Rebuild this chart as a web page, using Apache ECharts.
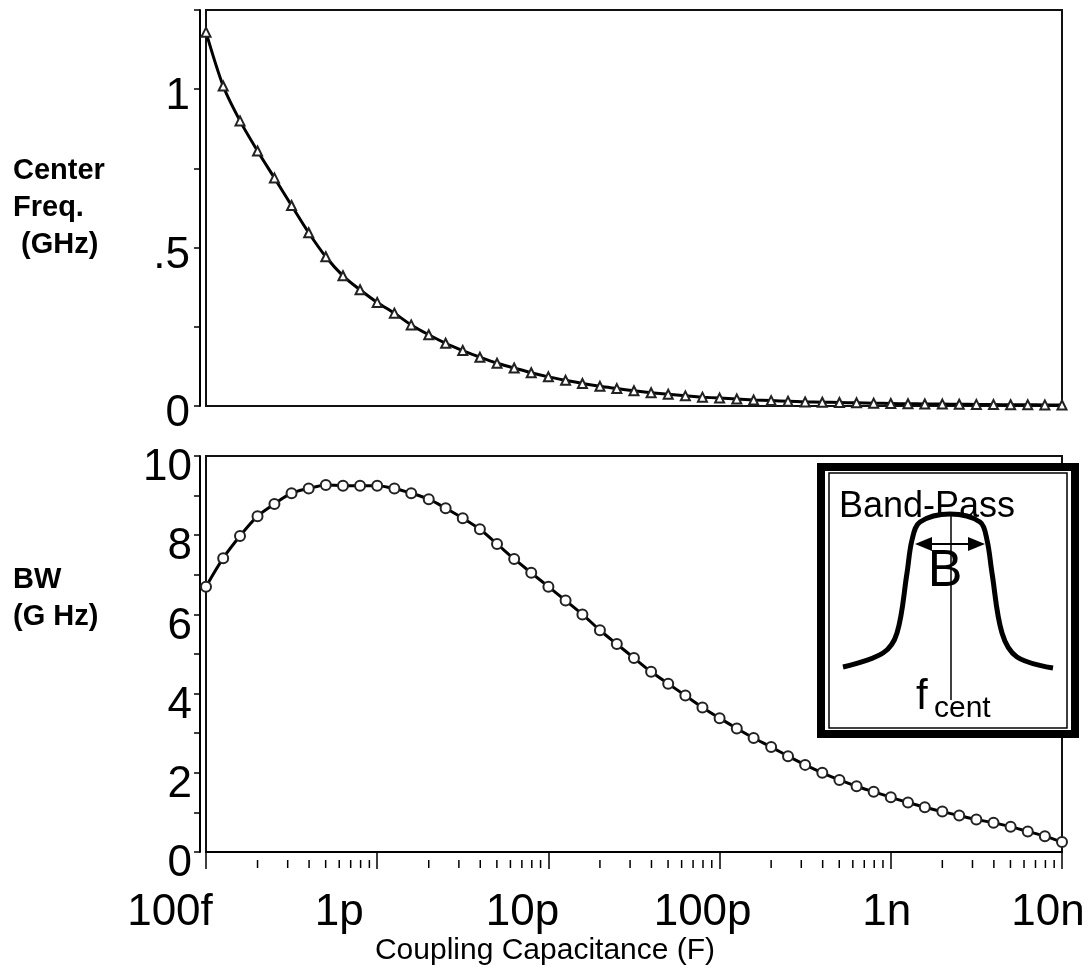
<!DOCTYPE html>
<html><head><meta charset="utf-8">
<script src="https://cdn.jsdelivr.net/npm/echarts@6/dist/echarts.min.js"></script>
<style>html,body{margin:0;padding:0;background:#fff}#c{width:1092px;height:977px}</style>
</head><body><div id="c"></div>
<script>
// Coupling capacitance sample points (F), 10 per decade
const capacitance = [
1.00e-13,1.26e-13,1.58e-13,2.00e-13,2.51e-13,3.16e-13,3.98e-13,5.01e-13,6.31e-13,7.94e-13,
1.00e-12,1.26e-12,1.58e-12,2.00e-12,2.51e-12,3.16e-12,3.98e-12,5.01e-12,6.31e-12,7.94e-12,
1.00e-11,1.26e-11,1.58e-11,2.00e-11,2.51e-11,3.16e-11,3.98e-11,5.01e-11,6.31e-11,7.94e-11,
1.00e-10,1.26e-10,1.58e-10,2.00e-10,2.51e-10,3.16e-10,3.98e-10,5.01e-10,6.31e-10,7.94e-10,
1.00e-9,1.26e-9,1.58e-9,2.00e-9,2.51e-9,3.16e-9,3.98e-9,5.01e-9,6.31e-9,7.94e-9,
1.00e-8];
// Center frequency (GHz)
const centerFreqGHz = [
1.18,1.01,0.90,0.805,0.72,0.633,0.547,0.471,0.411,0.367,
0.327,0.293,0.256,0.225,0.198,0.175,0.154,0.135,0.120,0.105,
0.092,0.081,0.071,0.062,0.055,0.048,0.042,0.037,0.032,0.028,
0.025,0.022,0.019,0.017,0.015,0.013,0.012,0.011,0.010,0.009,
0.008,0.007,0.0065,0.006,0.0055,0.005,0.0045,0.004,0.0037,0.0034,
0.003];
// Bandwidth (GHz)
const bandwidthGHz = [
6.70,7.42,7.98,8.48,8.79,9.06,9.18,9.27,9.25,9.25,
9.25,9.18,9.06,8.91,8.68,8.43,8.15,7.78,7.40,7.05,
6.70,6.35,6.00,5.60,5.25,4.90,4.55,4.25,3.95,3.65,
3.38,3.12,2.88,2.65,2.42,2.20,2.00,1.82,1.66,1.52,
1.38,1.25,1.13,1.02,0.92,0.82,0.74,0.64,0.52,0.40,
0.25];
const xTickLabels = ['100f','1p','10p','100p','1n','10n'];
const xLabelShift = [72,76,52,34,8,28];
const yTopLabels = {'0':'0','0.5':'.5','1':'1'};
const yBottomLabels = {'0':'0','2':'2','4':'4','6':'6','8':'8','10':'10'};

const FONT = '"Liberation Sans", Arial, sans-serif';
const minorTicks = [];
for (let d = -13; d < -8; d++) for (let k = 2; k <= 9; k++) minorTicks.push([k * Math.pow(10, d), 0]);

const rich = {};
xTickLabels.forEach((t, i) => {
  rich['l' + i] = {fontSize: 44, fontFamily: FONT, color: '#000', padding: [0, xLabelShift[i], 0, 0]};
});

const chart = echarts.init(document.getElementById('c'));
const axisLineStyle = {color: '#000', width: 2};
const option = {
  animation: false,
  backgroundColor: '#fff',
  grid: [
    {left: 206, top: 10, right: 30, height: 396, show: true, borderColor: '#111', borderWidth: 2, backgroundColor: 'transparent'},
    {left: 206, top: 456, right: 30, height: 396, show: true, borderColor: '#111', borderWidth: 2, backgroundColor: 'transparent'}
  ],
  xAxis: [
    {gridIndex: 0, type: 'log', logBase: 10, min: 1e-13, max: 1e-8, show: false},
    {gridIndex: 1, type: 'log', logBase: 10, min: 1e-13, max: 1e-8, splitNumber: 5, offset: 8,
     axisLine: {show: true, lineStyle: axisLineStyle},
     axisTick: {show: true, length: 17, lineStyle: {color: '#000', width: 1.5}},
     splitLine: {show: false}, minorTick: {show: false},
     axisLabel: {show: true, margin: 31, showMinLabel: true, showMaxLabel: true, hideOverlap: false,
       formatter: v => { const i = Math.round(Math.log10(v)) + 13; return (i >= 0 && i < xTickLabels.length) ? '{l' + i + '|' + xTickLabels[i] + '}' : ''; },
       rich: rich},
     name: 'Coupling Capacitance (F)', nameLocation: 'middle', nameGap: 74,
     nameTextStyle: {fontSize: 30, fontFamily: FONT, color: '#000', padding: [0, 178, 0, 0]}}
  ],
  yAxis: [
    {gridIndex: 0, type: 'value', min: 0, max: 1.25, interval: 0.25, offset: 6,
     axisLine: {show: true, lineStyle: axisLineStyle},
     axisTick: {show: true, length: 6, lineStyle: {color: '#000', width: 1.5}},
     splitLine: {show: false},
     axisLabel: {margin: 10,
       formatter: v => { const s = yTopLabels[String(Math.round(v * 100) / 100)]; return s ? '{v|' + s + '}' : ''; },
       rich: {v: {fontSize: 44, fontFamily: FONT, color: '#000', padding: [16, 0, 0, 0]}}},
     name: 'Center\nFreq.\n (GHz)', nameLocation: 'middle', nameRotate: 0, nameGap: 187,
     nameTextStyle: {align: 'left', verticalAlign: 'middle', fontSize: 29, fontWeight: 'bold', fontFamily: FONT, lineHeight: 37, color: '#000'}},
    {gridIndex: 1, type: 'value', min: 0, max: 10, interval: 1, offset: 6,
     axisLine: {show: true, lineStyle: axisLineStyle},
     axisTick: {show: true, length: 6, lineStyle: {color: '#000', width: 1.5}},
     splitLine: {show: false},
     axisLabel: {margin: 8,
       formatter: v => { const s = yBottomLabels[String(Math.round(v))]; return s ? '{v|' + s + '}' : ''; },
       rich: {v: {fontSize: 44, fontFamily: FONT, color: '#000', padding: [24, 0, 0, 0]}}}}
  ],
  series: [
    {type: 'line', xAxisIndex: 0, yAxisIndex: 0, data: capacitance.map((c, i) => [c, centerFreqGHz[i]]),
     smooth: 0.3, showAllSymbol: true, symbol: 'emptyTriangle', symbolSize: 9,
     lineStyle: {color: '#000', width: 3}, itemStyle: {color: '#222', borderWidth: 1.2}, z: 3},
    {type: 'line', xAxisIndex: 1, yAxisIndex: 1, data: capacitance.map((c, i) => [c, bandwidthGHz[i]]),
     smooth: 0.3, showAllSymbol: true, symbol: 'emptyCircle', symbolSize: 10,
     lineStyle: {color: '#000', width: 3}, itemStyle: {color: '#222', borderWidth: 1.2}, z: 3},
    {type: 'custom', xAxisIndex: 1, yAxisIndex: 1, data: minorTicks, clip: false, silent: true,
     renderItem: (params, api) => {
       const p = api.coord([api.value(0), 0]);
       return {type: 'line', shape: {x1: p[0], y1: p[1] + 8, x2: p[0], y2: p[1] + 16}, style: {stroke: '#000', lineWidth: 1.5}};
     }}
  ],
  graphic: [
    {type: 'text', z: 50, style: {text: 'BW\n(G Hz)', x: 13, y: 598, fontSize: 29, fontWeight: 'bold', fontFamily: FONT, lineHeight: 37, fill: '#000', verticalAlign: 'middle'}},
    {type: 'rect', z: 100, shape: {x: 821, y: 467, width: 254, height: 267}, style: {fill: '#fff', stroke: '#000', lineWidth: 8}},
    {type: 'rect', z: 101, shape: {x: 829, y: 473, width: 238, height: 255}, style: {fill: 'none', stroke: '#000', lineWidth: 1.5}},
    {type: 'polyline', z: 102, shape: {smooth: 0.35, points: [[843,667],[883,653],[897,633],[907,573],[912,540],[920,522],[950,514],[980,522],[987,540],[992,573],[1002,633],[1017,657],[1053,668]]},
     style: {fill: 'none', stroke: '#000', lineWidth: 5}},
    {type: 'line', z: 103, shape: {x1: 951, y1: 512, x2: 951, y2: 700}, style: {stroke: '#000', lineWidth: 1.5}},
    {type: 'line', z: 103, shape: {x1: 925, y1: 544, x2: 975, y2: 544}, style: {stroke: '#000', lineWidth: 2}},
    {type: 'polygon', z: 103, shape: {points: [[915,544],[932,537],[932,551]]}, style: {fill: '#000'}},
    {type: 'polygon', z: 103, shape: {points: [[985,544],[968,537],[968,551]]}, style: {fill: '#000'}},
    {type: 'text', z: 104, style: {text: 'Band-Pass', x: 839, y: 507, fontSize: 36, fontFamily: FONT, fill: '#000', verticalAlign: 'middle'}},
    {type: 'text', z: 104, style: {text: 'B', x: 945, y: 572, fontSize: 52, fontFamily: FONT, fill: '#000', align: 'center', verticalAlign: 'middle'}},
    {type: 'text', z: 104, style: {text: 'f', x: 916, y: 718, fontSize: 42, fontFamily: FONT, fill: '#000', verticalAlign: 'bottom'}},
    {type: 'text', z: 104, style: {text: 'cent', x: 934, y: 724, fontSize: 30, fontFamily: FONT, fill: '#000', verticalAlign: 'bottom'}}
  ]
};
chart.setOption(option);
</script>
</body></html>
